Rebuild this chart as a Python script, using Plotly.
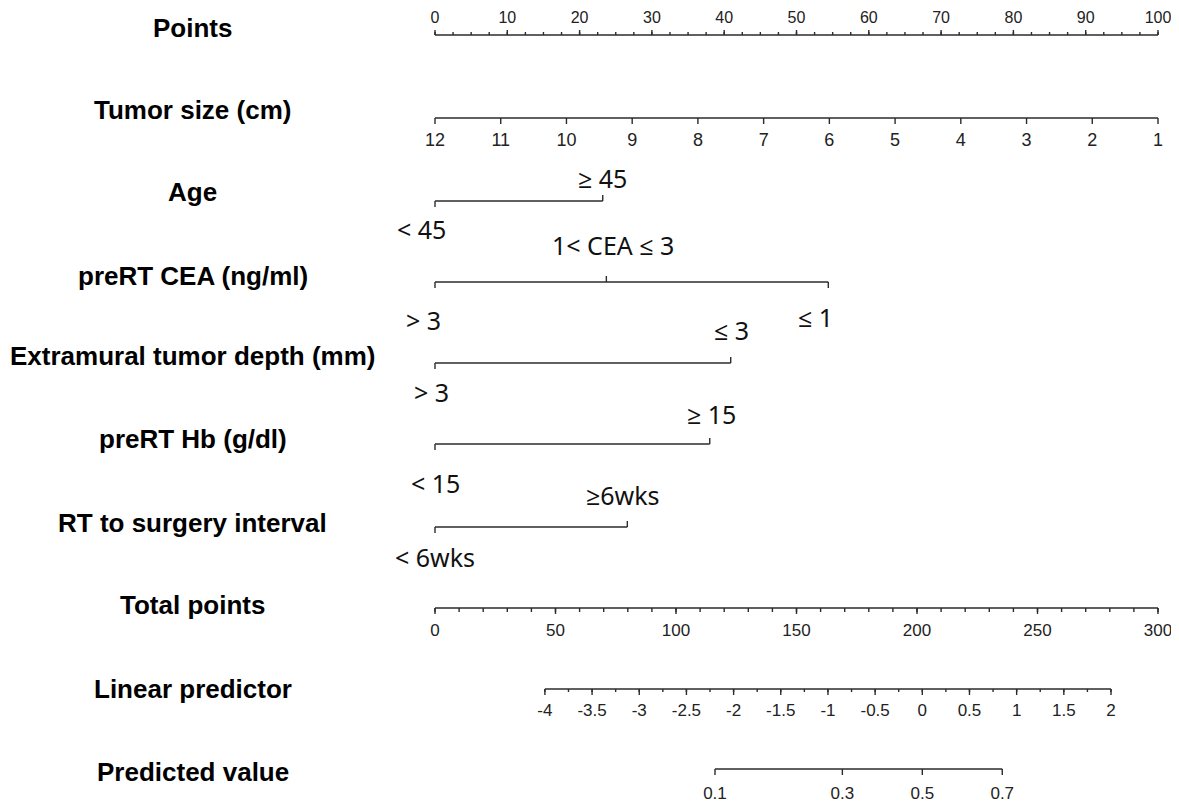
import math
import plotly.graph_objects as go

# ---------------- data ----------------
points_labels = [0, 10, 20, 30, 40, 50, 60, 70, 80, 90, 100]
points_minor_step = 2.5

tumor_size_cm = [12, 11, 10, 9, 8, 7, 6, 5, 4, 3, 2, 1]   # 12 cm -> 0 pts, 1 cm -> 100 pts

age_levels = ["< 45", "≥ 45"]
age_points = [0, 23.2]

cea_levels = ["> 3", "1< CEA ≤ 3", "≤ 1"]
cea_points = [0, 23.7, 54.4]

emtd_levels = ["> 3", "≤ 3"]
emtd_points = [0, 40.9]

hb_levels = ["< 15", "≥ 15"]
hb_points = [0, 38.0]

interval_levels = ["< 6wks", "≥6wks"]
interval_points = [0, 26.6]

total_labels = [0, 50, 100, 150, 200, 250, 300]
total_minor_step = 10
total_max = 300

lp_labels = [-4, -3.5, -3, -2.5, -2, -1.5, -1, -0.5, 0, 0.5, 1, 1.5, 2]
lp_minor_step = 0.25
lp_range_total_points = [45.6, 280.5]   # total points at LP = -4 and LP = 2

pv_labels = [0.1, 0.3, 0.5, 0.7]

row_names = ["Points", "Tumor size (cm)", "Age", "preRT CEA (ng/ml)",
             "Extramural tumor depth (mm)", "preRT Hb (g/dl)",
             "RT to surgery interval", "Total points", "Linear predictor",
             "Predicted value"]

# ---------------- scale conversions ----------------
def tumor_to_pts(cm):
    return (max(tumor_size_cm) - cm) / (max(tumor_size_cm) - min(tumor_size_cm)) * 100


def total_to_pts(t):
    return t / total_max * 100


def lp_to_pts(v):
    t0, t1 = lp_range_total_points
    tot = t0 + (v - lp_labels[0]) * (t1 - t0) / (lp_labels[-1] - lp_labels[0])
    return total_to_pts(tot)


def pv_to_pts(p):
    return lp_to_pts(math.log(p / (1 - p)))


def fmt(v):
    return ("%g" % v)

# ---------------- layout constants ----------------
W, H = 1179, 808
OFF = 8                      # page body margin
PX0, PX100 = 435, 1158       # page x of 0 and 100 points
ppp = (PX100 - PX0) / 100.0
xr = [-(PX0 - OFF) / ppp, (W - (PX0 - OFF)) / ppp]
yr = [H + OFF, OFF]

row_y = [35, 118, 201, 282, 363, 444, 527, 608, 689, 769]
label_y = [28, 110, 192, 276, 356, 439, 523, 605, 689, 772]

LINE = "#2b2b2b"
LW = 1.4
TICKFONT = dict(family="Liberation Sans, Arial", size=17, color="#222222")
CATFONT = dict(family="Noto Sans, Open Sans", size=25, color="#111111")

fig = go.Figure()
annotations = []


def add_axis(xs_major, y, direction, major_len, xs_minor=None, minor_len=None):
    """direction: -1 ticks up, +1 ticks down (y axis is pixel-like, reversed)."""
    xs = [min(xs_major), max(xs_major), None]
    ys = [y, y, None]
    for x in xs_major:
        xs += [x, x, None]
        ys += [y, y + direction * major_len, None]
    if xs_minor:
        for x in xs_minor:
            xs += [x, x, None]
            ys += [y, y + direction * minor_len, None]
    fig.add_trace(go.Scatter(x=xs, y=ys, mode="lines",
                             line=dict(color=LINE, width=LW), cliponaxis=False,
                             hoverinfo="skip", showlegend=False))


def add_tick_text(xs, texts, y, font=TICKFONT):
    fig.add_trace(go.Scatter(x=xs, y=[y] * len(xs), mode="text", text=texts,
                             textposition="middle center", textfont=font,
                             cliponaxis=False,
                             hoverinfo="skip", showlegend=False))


def add_categorical(pts, levels, y, sides, shifts, dys):
    xs = [min(pts), max(pts), None]
    ys = [y, y, None]
    for p, s in zip(pts, sides):
        d = -1 if s == "above" else 1
        xs += [p, p, None]
        ys += [y, y + d * 6, None]
    fig.add_trace(go.Scatter(x=xs, y=ys, mode="lines",
                             line=dict(color=LINE, width=LW), cliponaxis=False,
                             hoverinfo="skip", showlegend=False))
    for p, lev, s, sh, dy in zip(pts, levels, sides, shifts, dys):
        annotations.append(dict(x=p, y=y + dy, xref="x", yref="y", text=lev,
                                showarrow=False, xanchor="center", yanchor="middle",
                                xshift=sh, font=CATFONT))

# Points
minor_pts = [i * points_minor_step for i in range(int(100 / points_minor_step) + 1)]
add_axis(points_labels, row_y[0], -1, 5, minor_pts, 3)
add_tick_text(points_labels, [fmt(v) for v in points_labels], 19, dict(TICKFONT, size=16))

# Tumor size
tpts = [tumor_to_pts(c) for c in tumor_size_cm]
add_axis(tpts, row_y[1], 1, 6)
add_tick_text(tpts, [fmt(c) for c in tumor_size_cm], 141, dict(TICKFONT, size=18))

# Categorical rows
add_categorical(age_points, age_levels, row_y[2], ["below", "above"], [-14, 0], [28, -23])
add_categorical(cea_points, cea_levels, row_y[3], ["below", "above", "below"], [-12, 7, -13], [38, -37, 35])
add_categorical(emtd_points, emtd_levels, row_y[4], ["below", "above"], [-4, 1], [29, -33])
add_categorical(hb_points, hb_levels, row_y[5], ["below", "above"], [0, 2], [39, -30])
add_categorical(interval_points, interval_levels, row_y[6], ["below", "above"], [0, -4], [30, -32])

# Total points
tot_major = [total_to_pts(t) for t in total_labels]
tot_minor = [total_to_pts(i * total_minor_step) for i in range(int(total_max / total_minor_step) + 1)]
add_axis(tot_major, row_y[7], 1, 6, tot_minor, 4)
add_tick_text(tot_major, [fmt(t) for t in total_labels], 632)

# Linear predictor
lp_major = [lp_to_pts(v) for v in lp_labels]
n_lp_minor = int(round((lp_labels[-1] - lp_labels[0]) / lp_minor_step))
lp_minor = [lp_to_pts(lp_labels[0] + i * lp_minor_step) for i in range(n_lp_minor + 1)]
add_axis(lp_major, row_y[8], 1, 6, lp_minor, 3)
add_tick_text(lp_major, [fmt(v) for v in lp_labels], 712)

# Predicted value
pv_major = [pv_to_pts(p) for p in pv_labels]
add_axis(pv_major, row_y[9], 1, 6)
add_tick_text(pv_major, [fmt(p) for p in pv_labels], 795)

# Left labels
for name, ly in zip(row_names, label_y):
    annotations.append(dict(x=(193 - OFF) / W, y=ly, xref="paper", yref="y", text="<b>%s</b>" % name,
                            showarrow=False, xanchor="center", yanchor="middle",
                            font=dict(family="Liberation Sans, Arial", size=26, color="#000000")))

fig.update_layout(
    width=W, height=H,
    margin=dict(l=0, r=0, t=0, b=0),
    paper_bgcolor="white", plot_bgcolor="white",
    xaxis=dict(range=xr, visible=False, fixedrange=True),
    yaxis=dict(range=yr, visible=False, fixedrange=True),
    annotations=annotations,
    showlegend=False,
)

fig.write_html("out.html")
